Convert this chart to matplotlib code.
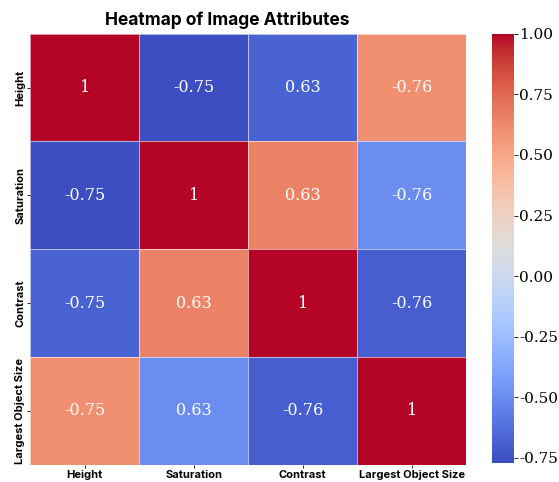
import numpy as np
import matplotlib
matplotlib.use("Agg")
import matplotlib.pyplot as plt
import seaborn as sns

labels = ["Height", "Saturation", "Contrast", "Largest Object Size"]

# colour values
color_vals = np.array([
    [1.00, -0.76, -0.68, 0.60],
    [-0.76, 1.00, 0.65, -0.50],
    [-0.68, 0.65, 1.00, -0.70],
    [0.60, -0.50, -0.70, 1.00],
])

# printed annotation values
annot_vals = np.array([
    [1, -0.75, 0.63, -0.76],
    [-0.75, 1, 0.63, -0.76],
    [-0.75, 0.63, 1, -0.76],
    [-0.75, 0.63, -0.76, 1],
])
annot_txt = [[("%g" % v) for v in row] for row in annot_vals]

fig = plt.figure(figsize=(5.59, 4.82), dpi=100)
ax = fig.add_axes([0.054, 0.036, 0.78, 0.894])
cax = fig.add_axes([0.88, 0.04, 0.039, 0.89])

sns.heatmap(color_vals, ax=ax, cbar_ax=cax, cmap="coolwarm", vmin=-0.77, vmax=1.0,
            annot=np.array(annot_txt), fmt="", linewidths=0.5,
            linecolor=(1, 1, 1, 0.6),
            annot_kws={"family": "DejaVu Serif", "size": 11.5, "color": "white"},
            xticklabels=labels, yticklabels=labels)

fig.text(227 / 559, 1 - 20 / 482, "Heatmap of Image Attributes", family="Inter",
         weight="bold", size=12.5, ha="center", va="center")
for t in ax.get_xticklabels():
    t.set_family("Inter"); t.set_weight("bold"); t.set_size(8); t.set_rotation(0)
for t in ax.get_yticklabels():
    t.set_family("Inter"); t.set_weight("bold"); t.set_size(8); t.set_rotation(90)
    t.set_va("center")
ax.tick_params(length=2.5, width=0.6, pad=1)

cax.set_yticks([-0.75, -0.5, -0.25, 0, 0.25, 0.5, 0.75, 1.0])
cax.set_yticklabels(["%.2f" % v for v in [-0.75, -0.5, -0.25, 0, 0.25, 0.5, 0.75, 1.0]],
                    family="DejaVu Serif", size=11)
cax.tick_params(length=3, width=0.6, pad=1)

fig.savefig("out.png", dpi=100)
